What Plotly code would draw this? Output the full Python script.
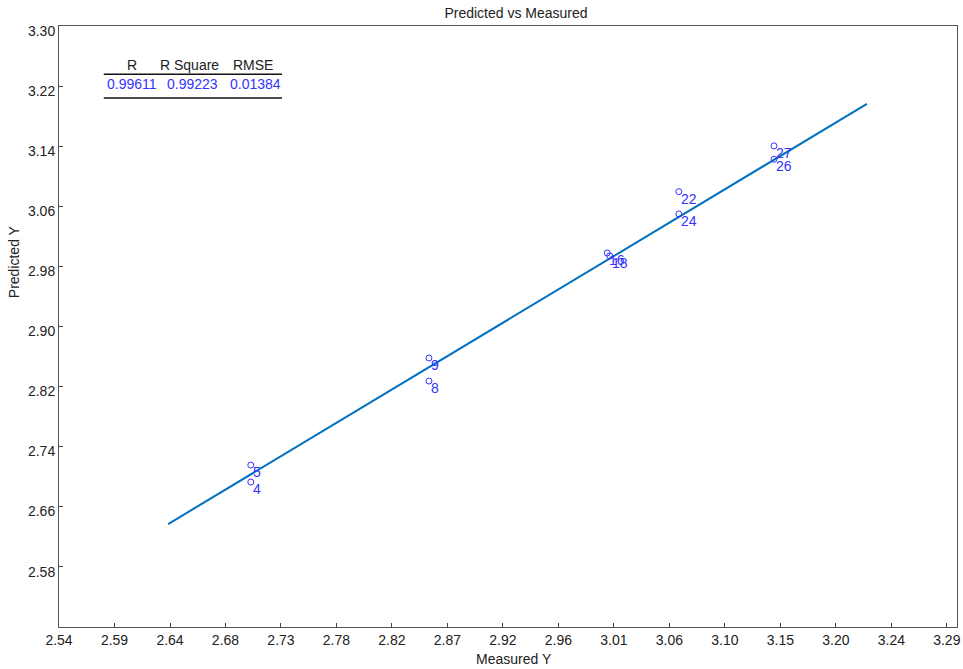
import plotly.graph_objects as go

# ---- data ----
measured = [2.7035, 2.7035, 2.8540, 2.8540, 3.0046, 3.0067, 3.0651, 3.0651, 3.1455, 3.1455]
predicted = [2.6927, 2.7153, 2.8273, 2.8580, 2.9980, 2.9940, 3.0797, 3.0500, 3.1229, 3.1407]
point_ids = ["4", "5", "8", "9", "16", "18", "22", "24", "26", "27"]

fit_x = [2.6337, 3.2240]
fit_y = [2.6367, 3.1967]

stat_headers = ["R", "R Square", "RMSE"]
stat_values = ["0.99611", "0.99223", "0.01384"]

x_tick_labels = ["2.54", "2.59", "2.64", "2.68", "2.73", "2.78", "2.82", "2.87", "2.92",
                 "2.96", "3.01", "3.06", "3.10", "3.15", "3.20", "3.24", "3.29"]
y_tick_labels = ["2.58", "2.66", "2.74", "2.82", "2.90", "2.98", "3.06", "3.14", "3.22", "3.30"]

# ---- layout constants ----
W, H = 963, 669
L, R, T, B = 59, 2, 26, 42
PW, PH = W - L - R, H - T - B

x_start, x_step = 2.5415, 0.046875
x_tick_vals = [x_start + i * x_step for i in range(len(x_tick_labels))]
y_tick_vals = [float(v) for v in y_tick_labels]
x_range = [x_start - 0.00002, 3.3001]
y_range = [2.4995, 3.3005]

BLUE = "#3333ff"
TXT = "#222222"
FONT = "Arial, Liberation Sans, sans-serif"


def px_x(p):
    return (p - L) / PW


def px_y(p):
    return (H - B - p) / PH


fig = go.Figure()

fig.add_trace(go.Scatter(
    x=fit_x, y=fit_y, mode="lines",
    line=dict(color="#0070c0", width=2),
    hoverinfo="skip", showlegend=False))

fig.add_trace(go.Scatter(
    x=measured, y=predicted, mode="markers",
    marker=dict(symbol="circle-open", size=6, color=BLUE, line=dict(width=1, color=BLUE)),
    showlegend=False))

annotations = []
for xv, yv, lab in zip(measured, predicted, point_ids):
    annotations.append(dict(
        x=xv, y=yv, xref="x", yref="y", text=lab, showarrow=False,
        xanchor="left", yanchor="middle", xshift=0, yshift=-7,
        font=dict(family=FONT, size=14, color=BLUE)))

# stats table
header_px = [132, 190, 254]
value_px = [132, 193, 256]
for hx, vx, h, v in zip(header_px, value_px, stat_headers, stat_values):
    annotations.append(dict(
        x=px_x(hx), y=px_y(64.5), xref="paper", yref="paper", text=h,
        showarrow=False, xanchor="center", yanchor="middle",
        font=dict(family=FONT, size=14, color=TXT)))
    annotations.append(dict(
        x=px_x(vx), y=px_y(84), xref="paper", yref="paper", text=v,
        showarrow=False, xanchor="center", yanchor="middle",
        font=dict(family=FONT, size=14, color=BLUE)))

# axis titles
annotations.append(dict(
    x=px_x(516), y=px_y(659), xref="paper", yref="paper", text="Measured Y",
    showarrow=False, xanchor="center", yanchor="middle",
    font=dict(family=FONT, size=14, color=TXT)))
annotations.append(dict(
    x=px_x(14), y=px_y(262), xref="paper", yref="paper", text="Predicted Y",
    showarrow=False, xanchor="center", yanchor="middle", textangle=-90,
    font=dict(family=FONT, size=14, color=TXT)))

shapes = []
for ly in (74.3, 98):
    shapes.append(dict(type="line", xref="paper", yref="paper",
                       x0=px_x(104), x1=px_x(283), y0=px_y(ly), y1=px_y(ly),
                       line=dict(color="#111111", width=1.5)))

fig.update_layout(
    width=W, height=H,
    margin=dict(l=L, r=R, t=T, b=B),
    paper_bgcolor="white", plot_bgcolor="white",
    title=dict(text="Predicted vs Measured", x=516 / W, xanchor="center",
               y=1 - 13 / H, yanchor="middle", yref="container",
               font=dict(family=FONT, size=14, color=TXT)),
    font=dict(family=FONT, size=14, color=TXT),
    annotations=annotations,
    shapes=shapes,
    showlegend=False,
)

fig.update_xaxes(
    range=x_range, tickvals=x_tick_vals, ticktext=x_tick_labels,
    ticks="inside", ticklen=4, tickcolor="#444444", tickwidth=1,
    showline=True, mirror=True, linecolor="#555555", linewidth=1,
    showgrid=False, zeroline=False, ticklabeloverflow="allow",
    tickfont=dict(family=FONT, size=14, color=TXT))
fig.update_yaxes(
    range=y_range, tickvals=y_tick_vals, ticktext=y_tick_labels,
    ticks="inside", ticklen=4, tickcolor="#444444", tickwidth=1,
    showline=True, mirror=True, linecolor="#555555", linewidth=1,
    showgrid=False, zeroline=False, ticklabelshift=5, ticklabeloverflow="allow",
    tickfont=dict(family=FONT, size=14, color=TXT))

fig.write_html(
    "out.html",
    config={"displayModeBar": False},
    post_script="document.body.style.margin='0';document.body.style.overflow='hidden';",
)
